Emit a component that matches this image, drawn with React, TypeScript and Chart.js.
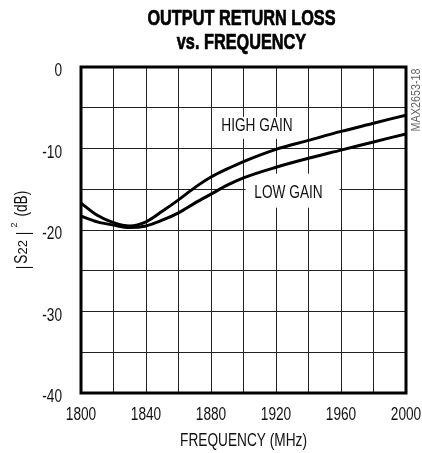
import React, { useEffect, useRef } from 'react';
import { Chart, registerables } from 'chart.js';

Chart.register(...registerables);

const FONT = '"Liberation Sans", Arial, Helvetica, sans-serif';
const SX = 0.76; // horizontal condensing of text

const frequencies = [1800, 1810, 1820, 1830, 1840, 1850, 1860, 1870, 1880, 1890, 1900, 1920, 1940, 1960, 1980, 2000];
const highGain = [-16.7, -18.2, -19.1, -19.5, -19.0, -17.7, -16.3, -14.8, -13.5, -12.5, -11.6, -10.1, -9.0, -7.9, -6.9, -5.9];
const lowGain = [-18.3, -19.0, -19.4, -19.7, -19.5, -18.8, -17.9, -16.7, -15.6, -14.5, -13.6, -12.3, -11.2, -10.2, -9.2, -8.2];

const xTickLabels = [1800, 1840, 1880, 1920, 1960, 2000];
const yTickLabels = [0, -10, -20, -30, -40];

const titleLines = ['OUTPUT RETURN LOSS', 'vs. FREQUENCY'];
const xTitle = 'FREQUENCY (MHz)';
const curveLabels = [
  { text: 'HIGH GAIN', x: 1908.3, y: -7.1 },
  { text: 'LOW GAIN', x: 1927.7, y: -15.3 },
];
const partNumber = 'MAX2653-18';

function txt(ctx: any, s: string, x: number, y: number, align: string, font: string, sx = SX) {
  ctx.save();
  ctx.translate(x, y);
  ctx.scale(sx, 1);
  ctx.font = font;
  ctx.textAlign = align;
  ctx.textBaseline = 'alphabetic';
  ctx.fillText(s, 0, 0);
  ctx.restore();
}

export default function App() {
  const ref = useRef<HTMLCanvasElement>(null);

  useEffect(() => {
    const canvas = ref.current;
    if (!canvas) return;
    const body = `18px ${FONT}`;

    const decor = {
      id: 'decor',
      beforeDatasetsDraw(chart: any) {
        const { ctx, scales } = chart;
        ctx.save();
        ctx.fillStyle = '#fff';
        // knock-out boxes behind the curve labels
        const h = curveLabels[0];
        const hx = scales.x.getPixelForValue(h.x);
        const hy = scales.y.getPixelForValue(h.y);
        ctx.fillRect(hx - 39, hy - 8, 78, 22);
        const l = curveLabels[1];
        const lx = scales.x.getPixelForValue(l.x);
        const ly = scales.y.getPixelForValue(l.y);
        ctx.fillRect(lx - 43, ly - 18, 94, 34);
        ctx.restore();
      },
      afterDatasetsDraw(chart: any) {
        const { ctx, scales, chartArea } = chart;
        ctx.save();
        ctx.fillStyle = '#111';
        curveLabels.forEach((l) => {
          txt(ctx, l.text, scales.x.getPixelForValue(l.x), scales.y.getPixelForValue(l.y) + 6.5, 'center', body);
        });
        ctx.strokeStyle = '#000';
        ctx.lineWidth = 3;
        ctx.strokeRect(chartArea.left, chartArea.top, chartArea.right - chartArea.left, chartArea.bottom - chartArea.top);
        ctx.restore();
      },
      afterDraw(chart: any) {
        const { ctx, chartArea, scales } = chart;
        const midX = (chartArea.left + chartArea.right) / 2;

        // title
        ctx.save();
        ctx.fillStyle = '#000';
        ctx.strokeStyle = '#000';
        ctx.lineWidth = 0.7;
        titleLines.forEach((t, i) => {
          ctx.save();
          ctx.translate(midX - 2, 25 + i * 24);
          ctx.scale(0.74, 1);
          ctx.font = `bold 22px ${FONT}`;
          ctx.textAlign = 'center';
          ctx.textBaseline = 'alphabetic';
          ctx.fillText(t, 0, 0);
          ctx.strokeText(t, 0, 0);
          ctx.restore();
        });
        ctx.restore();

        // tick labels
        ctx.save();
        ctx.fillStyle = '#111';
        xTickLabels.forEach((v) => {
          txt(ctx, String(v), scales.x.getPixelForValue(v), chartArea.bottom + 27, 'center', body);
        });
        yTickLabels.forEach((v) => {
          txt(ctx, String(v), chartArea.left - 19, scales.y.getPixelForValue(v) + 9, 'right', body);
        });
        // x title
        txt(ctx, xTitle, midX, chartArea.bottom + 53, 'center', body);
        ctx.restore();

        // y title with sub/superscript
        ctx.save();
        const midY = (chartArea.top + chartArea.bottom) / 2;
        ctx.translate(27, midY);
        ctx.rotate(-Math.PI / 2);
        ctx.fillStyle = '#111';
        const segs = [
          { t: '|', size: 18, sx: SX, dy: 2, gap: 2 },
          { t: 'S', size: 18, sx: SX, dy: 0, gap: 0 },
          { t: '22', size: 13, sx: 1, dy: 0, gap: 5 },
          { t: '|', size: 18, sx: SX, dy: 2, gap: 4 },
          { t: '2', size: 9, sx: 1, dy: -10, gap: 6 },
          { t: '(dB)', size: 18, sx: SX, dy: 0, gap: 0 },
        ];
        let total = 0;
        const widths = segs.map((s) => {
          ctx.font = `${s.size}px ${FONT}`;
          const w = ctx.measureText(s.t).width * s.sx;
          total += w + s.gap;
          return w;
        });
        let x = -total / 2;
        segs.forEach((s, i) => {
          txt(ctx, s.t, x, s.dy, 'left', `${s.size}px ${FONT}`, s.sx);
          x += widths[i] + s.gap;
        });
        ctx.restore();

        // part number
        ctx.save();
        ctx.translate(420, chartArea.top + 33);
        ctx.rotate(-Math.PI / 2);
        ctx.fillStyle = '#666';
        txt(ctx, partNumber, 0, 0, 'center', `13.5px ${FONT}`, 0.8);
        ctx.restore();
      },
    };

    const chart = new Chart(canvas, {
      type: 'line',
      data: {
        datasets: [
          {
            label: 'HIGH GAIN',
            data: frequencies.map((f, i) => ({ x: f, y: highGain[i] })),
            borderColor: '#000',
            borderWidth: 3,
            pointRadius: 0,
            cubicInterpolationMode: 'monotone',
            fill: false,
          },
          {
            label: 'LOW GAIN',
            data: frequencies.map((f, i) => ({ x: f, y: lowGain[i] })),
            borderColor: '#000',
            borderWidth: 3,
            pointRadius: 0,
            cubicInterpolationMode: 'monotone',
            fill: false,
          },
        ],
      },
      options: {
        responsive: false,
        animation: false,
        layout: { padding: { top: 67, right: 16, left: 0, bottom: 0 } },
        plugins: { legend: { display: false }, tooltip: { enabled: false }, title: { display: false } },
        scales: {
          x: {
            type: 'linear',
            min: 1800,
            max: 2000,
            border: { display: false },
            grid: { color: '#222', lineWidth: 1, drawTicks: false },
            ticks: { stepSize: 20, autoSkip: false, display: false },
            afterFit: (s: any) => {
              s.height = 60;
              s.paddingLeft = 0;
              s.paddingRight = 0;
            },
          },
          y: {
            type: 'linear',
            min: -40,
            max: 0,
            border: { display: false },
            grid: { color: '#222', lineWidth: 1, drawTicks: false },
            ticks: { stepSize: 5, autoSkip: false, display: false },
            afterFit: (s: any) => {
              s.width = 81;
            },
          },
        },
      },
      plugins: [decor],
    });

    return () => chart.destroy();
  }, []);

  return (
    <div style={{ position: 'absolute', left: 0, top: 0, width: 422, height: 453, background: '#fff' }}>
      <canvas ref={ref} width={422} height={453} style={{ display: 'block', width: 422, height: 453 }} />
    </div>
  );
}
